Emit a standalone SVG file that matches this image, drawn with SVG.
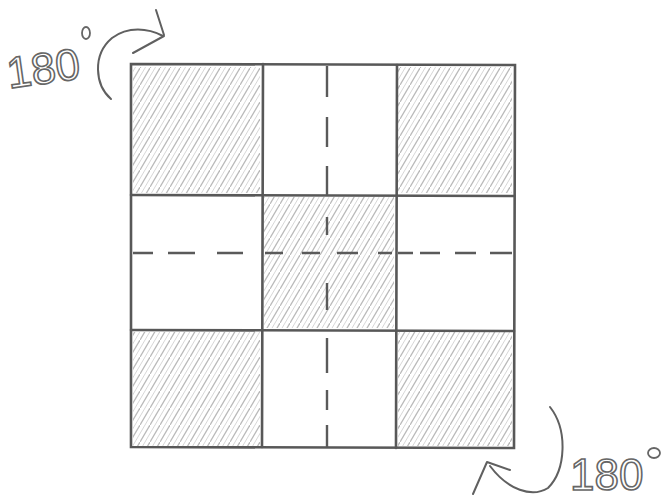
<svg xmlns="http://www.w3.org/2000/svg" width="667" height="502" viewBox="0 0 667 502">
<style>
.ln{stroke:#585858;stroke-width:2.6;fill:none;stroke-linecap:round}
.ds{stroke:#5a5a5a;stroke-width:2.4;fill:none}
.pen{stroke:#606060;stroke-width:2;fill:none;stroke-linecap:round;stroke-linejoin:round}
.lbl{font-family:"Liberation Sans",Arial,sans-serif;font-size:44px;fill:none;stroke:#666;stroke-width:1.6}
.deg{fill:none;stroke:#666;stroke-width:1.8}
.hatch{fill:url(#h)}
</style>
<defs>
<pattern id="h" width="10" height="17" patternUnits="userSpaceOnUse">
<path d="M0 17 L10 0" stroke="#a8a8a8" stroke-width="1.3" stroke-opacity="0.8"/>
<path d="M-5 17 L5 0 M5 17 L15 0" stroke="#c6c6c6" stroke-width="1" stroke-opacity="0.7"/>
</pattern>
</defs>
<rect width="667" height="502" fill="#ffffff"/>
<g id="hatching">
<rect id="cell-tl" class="hatch" x="133" y="67" width="127" height="126"/>
<rect id="cell-tr" class="hatch" x="398" y="67" width="114" height="126"/>
<rect id="cell-c" class="hatch" x="264" y="197" width="130" height="131"/>
<rect id="cell-bl" class="hatch" x="133" y="332" width="127" height="114"/>
<rect id="cell-br" class="hatch" x="398" y="332" width="114" height="114"/>
</g>
<g id="grid">
<path class="ln" d="M131 64 L515 65 L514 448 L131 447 Z"/>
<path class="ln" d="M263 64 L262 447"/>
<path class="ln" d="M397 65 L396 448"/>
<path class="ln" d="M131 195 L514 196"/>
<path class="ln" d="M131 330 L514 331"/>
</g>
<g id="folds">
<path class="ds" d="M327 66 V97 M327 117 V147 M327 166 V195"/>
<path class="ds" d="M327 217 V235 M327 283 V310"/>
<path class="ds" d="M327 338 V373 M327 390 V410 M327 425 V447"/>
<path class="ds" d="M133 253 H153 M168 253 H195 M217 253 H243 M265 253 H283 M302 253 H320 M337 253 H358 M378 253 H392 M398 253 H413 M420 253 H440 M455 253 H476 M490 253 H512"/>
</g>
<g id="rotate-top">
<path class="pen" d="M111 99 C95 85 92 55 112 38 C128 26 148 28 163 36"/>
<path class="pen" d="M164 35 L156 10 M164 36 L133 53"/>
<text class="lbl" x="6" y="84" transform="rotate(-8 40 65)">180</text>
<ellipse class="deg" cx="86" cy="33" rx="4" ry="6"/>
</g>
<g id="rotate-bottom">
<path class="pen" d="M550 407 C568 430 566 470 548 488 C532 498 508 490 490 466"/>
<path class="pen" d="M487 462 L473 494 M487 462 L510 470"/>
<text class="lbl" x="570" y="490" font-size="40">180</text>
<ellipse class="deg" cx="654" cy="453" rx="6" ry="5"/>
</g>
</svg>
